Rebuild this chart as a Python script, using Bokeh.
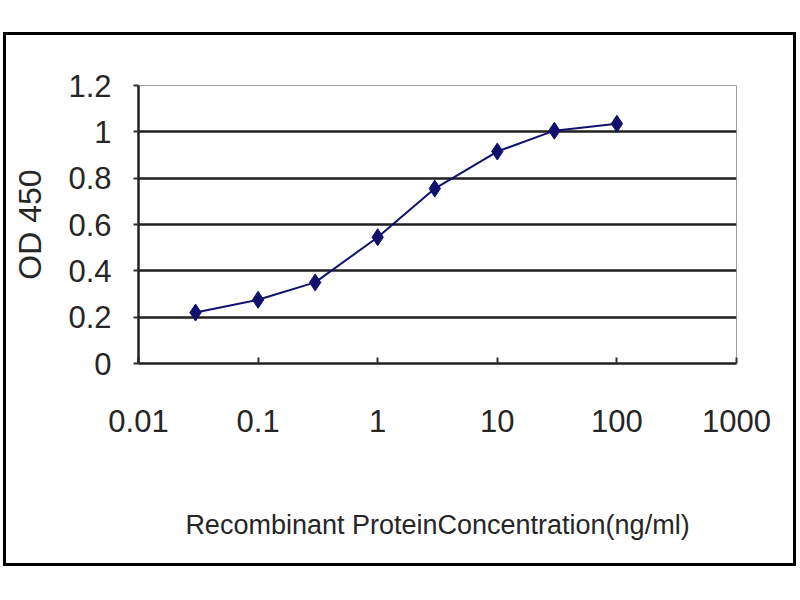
from bokeh.plotting import figure
from bokeh.models import FixedTicker
from bokeh.embed import file_html
from bokeh.resources import INLINE

# Data
concentration = [0.03, 0.1, 0.3, 1, 3, 10, 30, 100]
od450 = [0.22, 0.275, 0.35, 0.545, 0.755, 0.915, 1.005, 1.035]

x_ticks = [0.01, 0.1, 1, 10, 100, 1000]
x_tick_labels = ["0.01", "0.1", "1", "10", "100", "1000"]
y_ticks = [0, 0.2, 0.4, 0.6, 0.8, 1.0, 1.2]
y_tick_labels = ["0", "0.2", "0.4", "0.6", "0.8", "1", "1.2"]

x_title = "Recombinant ProteinConcentration(ng/ml)"
y_title = "OD 450"

FONT = "Liberation Sans"
TEXT = "#262626"
NAVY = "#10106e"

p = figure(width=793, height=534, x_axis_type="log",
           x_range=(0.01, 1000), y_range=(0, 1.2),
           output_backend="svg", toolbar_location=None)

# outer chart border (host element is border-box)
p.styles = {"border": "3px solid black", "margin-left": "3px", "margin-top": "32px"}

p.min_border_left = 132
p.min_border_right = 63
p.min_border_top = 50
p.min_border_bottom = 206

p.background_fill_color = "white"
p.border_fill_color = "white"
p.outline_line_color = "#a0a0a0"
p.outline_line_width = 1

p.xgrid.visible = False
p.ygrid.ticker = FixedTicker(ticks=y_ticks)
p.ygrid.grid_line_color = "#202020"
p.ygrid.grid_line_width = 2.5

# x axis
p.xaxis.ticker = FixedTicker(ticks=x_ticks, minor_ticks=[])
p.xaxis.major_label_overrides = {t: l for t, l in zip(x_ticks, x_tick_labels)}
p.xaxis.axis_line_color = "#202020"
p.xaxis.axis_line_width = 2.5
p.xaxis.major_tick_in = 6
p.xaxis.major_tick_out = 0
p.xaxis.major_tick_line_width = 2
p.xaxis.major_tick_line_color = "#303030"
p.xaxis.minor_tick_line_color = None
p.xaxis.major_label_text_font = FONT
p.xaxis.major_label_text_font_size = "31px"
p.xaxis.major_label_text_color = TEXT
p.xaxis.major_label_standoff = 46
p.xaxis.axis_label = x_title
p.xaxis.axis_label_text_font = FONT
p.xaxis.axis_label_text_font_size = "27px"
p.xaxis.axis_label_text_font_style = "normal"
p.xaxis.axis_label_text_color = TEXT
p.xaxis.axis_label_standoff = 75

# y axis
p.yaxis.ticker = FixedTicker(ticks=y_ticks, minor_ticks=[])
p.yaxis.major_label_overrides = {t: l for t, l in zip(y_ticks, y_tick_labels)}
p.yaxis.axis_line_color = "#202020"
p.yaxis.axis_line_width = 2.5
p.yaxis.major_tick_in = 0
p.yaxis.major_tick_out = 5
p.yaxis.major_tick_line_width = 2
p.yaxis.major_tick_line_color = "#303030"
p.yaxis.minor_tick_line_color = None
p.yaxis.major_label_text_font = FONT
p.yaxis.major_label_text_font_size = "31px"
p.yaxis.major_label_text_color = TEXT
p.yaxis.major_label_standoff = 22
p.yaxis.axis_label = y_title
p.yaxis.axis_label_text_font = FONT
p.yaxis.axis_label_text_font_size = "32px"
p.yaxis.axis_label_text_font_style = "normal"
p.yaxis.axis_label_text_color = TEXT
p.yaxis.axis_label_standoff = 17

p.line(concentration, od450, line_color=NAVY, line_width=2)
p.scatter(concentration, od450, marker="diamond", size=17,
          fill_color=NAVY, line_color=NAVY)

open("out.html", "w").write(file_html(p, INLINE))
